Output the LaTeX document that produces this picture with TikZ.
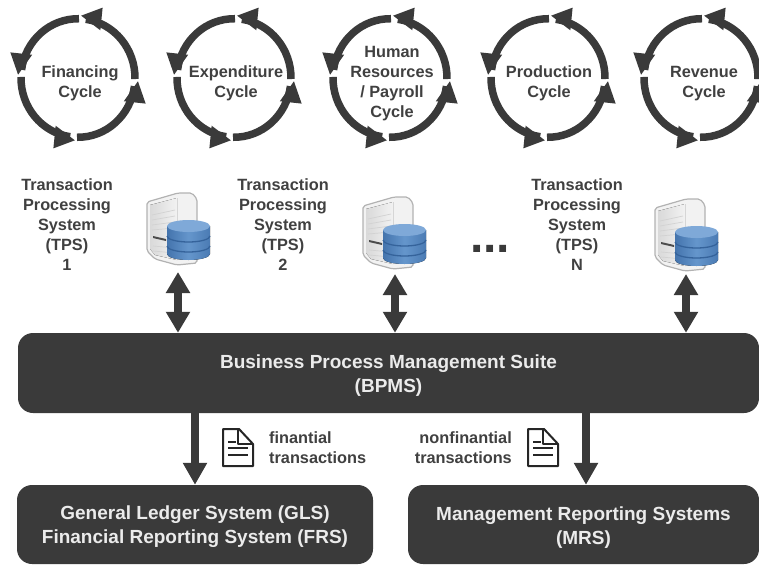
\documentclass[tikz,border=0pt]{standalone}
\usepackage{fontspec}
\setmainfont{Liberation Sans}
\usetikzlibrary{arrows.meta}
\definecolor{ink}{HTML}{3A3A3A}
\definecolor{txt}{HTML}{404040}
\definecolor{dbdark}{HTML}{4474AD}
\definecolor{dbmid}{HTML}{6596CC}
\definecolor{dbtop}{HTML}{7FA9D8}
\definecolor{dbline}{HTML}{35639B}
\newcommand{\boxlift}{\rule{0pt}{19pt}}
\tikzset{
  x=1pt,y=-1pt,
  every node/.style={font=\bfseries\fontsize{16.3}{20}\selectfont,text=txt,align=center,inner sep=0pt},
  darkbox/.style={fill=ink,rounded corners=15pt,text=white!92!black,font=\bfseries\fontsize{19}{24}\selectfont},
  bigarrow/.style={ink,line width=8pt,-{Triangle[width=23pt,length=22pt]}},
  bothways/.style={ink,line width=8pt,{Triangle[width=23pt,length=21pt]}-{Triangle[width=23pt,length=21pt]}},
  smalltext/.style={font=\bfseries\fontsize{16.3}{20}\selectfont},
  cyclearc/.style={ink,line width=7.5pt},
  pics/cycle/.style={code={
    \begin{scope}[yscale=-1.04,xscale=1]
    \foreach \r in {0,90,180,270}{
      \begin{scope}[rotate=\r]
        \draw[cyclearc] (-91:57) arc[start angle=-91,end angle=-8,radius=57];
        \fill[ink] (-3:60) -- (-26:51) -- (-20:72) -- cycle;
      \end{scope}
    }
    \end{scope}
  }},
  pics/server/.style={code={
    \fill[gray!10,draw=gray!60,line width=1.2pt,rounded corners=2pt]
      (0,9) -- (31,0) -- (45,0) -- (50,6) -- (50,70) -- (30,72) -- (8,66) -- (0,58) -- cycle;
    \fill[left color=gray!30,right color=gray!10] (3,12) -- (30,5) -- (30,67) -- (8,62) -- (3,56) -- cycle;
    \draw[gray!35,line width=.7pt] (5,22) -- (28,17) (5,27) -- (28,23) (5,32) -- (28,29) (5,37) -- (28,35) (6,53) -- (28,55) (6,58) -- (28,60);
    \fill[black!70] (6,43) -- (19,46) -- (19,48) -- (6,45) -- cycle;
    \fill[left color=dbdark,right color=dbdark!80!dbmid,middle color=dbmid]
      (20,33) -- (20,61) arc[start angle=180,end angle=360,x radius=21.5,y radius=-6] -- (63,33) -- cycle;
    \fill[dbtop] (41.5,33) ellipse[x radius=21.5,y radius=6];
    \draw[dbline,line width=1.3pt]
      (20,43) arc[start angle=180,end angle=360,x radius=21.5,y radius=-6]
      (20,53) arc[start angle=180,end angle=360,x radius=21.5,y radius=-6];
  }},
  pics/docicon/.style={code={
    \draw[black!85,line width=2pt,line join=round] (0,1) -- (16,1) -- (30,16) -- (30,38) -- (0,38) -- cycle;
    \draw[black!85,line width=1.8pt,line join=round] (15,1) -- (15,16) -- (30,16);
    \draw[black!85,line width=1.4pt] (5,14) -- (13,14) (5,20) -- (25,20) (5,27) -- (25,27);
  }}
}
\begin{document}
\begin{tikzpicture}
\useasboundingbox (0,0) rectangle (759,564);
% cycles
\pic at (78,78) {cycle};
\pic at (234,78) {cycle};
\pic at (390,78) {cycle};
\pic at (548,78) {cycle};
\pic at (701,78) {cycle};
\node (c1) at (80,83.5) {Financing\\Cycle};
\node (c2) at (236,83.5) {Expenditure\\Cycle};
\node (c3) at (392,83.5) {Human\\Resources\\/ Payroll\\Cycle};
\node (c4) at (549,83.5) {Production\\Cycle};
\node (c5) at (704,83.5) {Revenue\\Cycle};
% TPS labels
\node (t1) at (67,224.5) {Transaction\\Processing\\System\\(TPS)\\1};
\node (t2) at (283,224.5) {Transaction\\Processing\\System\\(TPS)\\2};
\node (t3) at (577,224.5) {Transaction\\Processing\\System\\(TPS)\\N};
\node[font=\bfseries\fontsize{48}{48}\selectfont,text=ink,anchor=base] (dots) at (490,252) {...};
% servers
\pic at (147,193) {server};
\pic at (363,197) {server};
\pic at (655,199) {server};
\coordinate (s1) at (178,272);
\coordinate (s2) at (395,274);
\coordinate (s3) at (686,274);
% boxes
\node[darkbox,minimum width=741pt,minimum height=80pt] (bpms) at (388.5,373) {\boxlift Business Process Management Suite\\(BPMS)};
\node[darkbox,minimum width=356pt,minimum height=79pt] (gls) at (195,524.5) {\boxlift General Ledger System (GLS)\\Financial Reporting System (FRS)};
\node[darkbox,minimum width=351pt,minimum height=79pt] (mrs) at (583.5,524.5) {\boxlift Management Reporting Systems\\(MRS)};
% connectors
\draw[bothways] (s1) -- (s1 |- bpms.north);
\draw[bothways] (s2) -- (s2 |- bpms.north);
\draw[bothways] (s3) -- (s3 |- bpms.north);
\coordinate (a1) at (195,413);
\coordinate (a2) at (586,413);
\draw[bigarrow] (a1) -- (a1 |- gls.north);
\draw[bigarrow] (a2) -- (a2 |- mrs.north);
% docs
\pic at (223,428) {docicon};
\pic at (528,428) {docicon};
\node[smalltext,anchor=north west,align=left] (f) at (269,431) {finantial\\transactions};
\node[smalltext,anchor=north east,align=right] (n) at (512,431) {nonfinantial\\transactions};
\end{tikzpicture}
\end{document}
